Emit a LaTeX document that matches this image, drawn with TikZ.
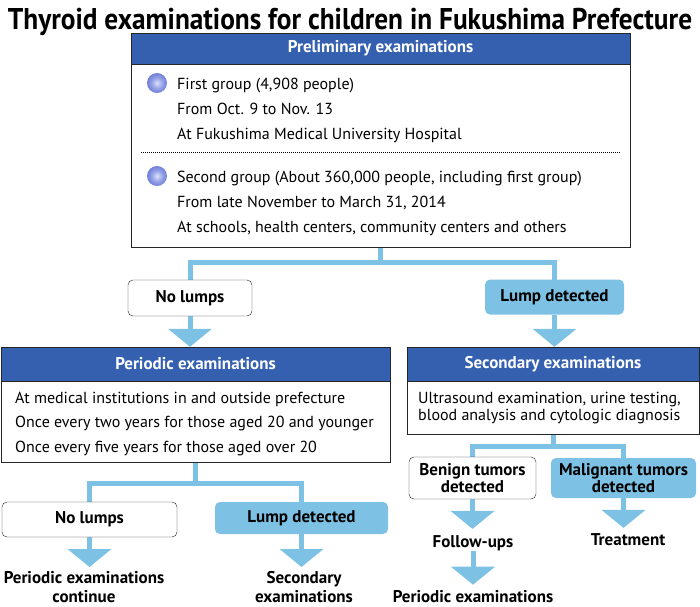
\documentclass[tikz,border=0pt]{standalone}
\usepackage{fontspec}
\setmainfont{PT Sans}
\newfontfamily\titlefont[FakeStretch=0.91]{PT Sans}
\usetikzlibrary{arrows.meta}
\definecolor{hdrblue}{RGB}{53,96,176}
\definecolor{lightblue}{RGB}{125,194,228}
\pgfdeclareradialshading{bulletshade}{\pgfpoint{0bp}{0bp}}{rgb(0bp)=(0.86,0.88,0.98); rgb(14bp)=(0.58,0.63,0.9); rgb(34bp)=(0.32,0.4,0.82); rgb(50bp)=(0.22,0.3,0.72)}
\pgfdeclarelayer{bg}
\pgfsetlayers{bg,main}

\begin{document}
\begin{tikzpicture}[x=1pt,y=-1pt,
    hdr/.style={draw=black!85,fill=hdrblue,text=white,font=\fontsize{17}{19}\selectfont\bfseries,minimum height=34pt,inner sep=0pt},
    body/.style={draw=black!85,fill=white,inner sep=0pt},
    txt/.style={anchor=base west,font=\fontsize{16}{18}\selectfont,inner sep=0pt},
    nolumpbox/.style={draw=black!85,fill=white,rounded corners=5pt,font=\fontsize{17}{17.5}\selectfont\bfseries,inner sep=0pt},
    lumpbox/.style={fill=lightblue,rounded corners=5pt,font=\fontsize{17}{17.5}\selectfont\bfseries,inner sep=0pt},
    outcome/.style={font=\fontsize{17}{19}\selectfont\bfseries,align=center,inner sep=0pt},
    flow/.style={draw=lightblue,line width=5pt},
    flowarrow/.style={flow,-{Triangle[width=43pt,length=18pt]}},
    bullet/.style={circle,minimum size=20pt,inner sep=0pt,shade,shading=bulletshade}]
    \useasboundingbox (0,0) rectangle (700,606);

    \node[anchor=base,font=\titlefont\fontsize{30}{32}\selectfont\bfseries] (title) at (350,29) {Thyroid examinations for children in Fukushima Prefecture};

    % preliminary
    \node[hdr,minimum width=499pt,minimum height=31pt] (pre) at (380.5,48.5) {Preliminary examinations};
    \node[body,anchor=north,minimum width=499pt,minimum height=183pt] (prebody) at (pre.south) {};
    \node[bullet] (b1) at (157,83) {};
    \node[bullet] (b2) at (157,176) {};
    \foreach \t [count=\i from 0] in {{First group (4,908 people)},{From Oct. 9 to Nov. 13},{At Fukushima Medical University Hospital}}
        \node[txt] (ga\i) at (177,89+25*\i) {\t};
    \draw[line width=0.6pt,dash pattern=on 1pt off 1pt] (141,152) -- (620,152);
    \foreach \t [count=\i from 0] in {{Second group (About 360,000 people, including first group)},{From late November to March 31, 2014},{At schools, health centers, community centers and others}}
        \node[txt] (gb\i) at (177,182+25*\i) {\t};

    \node[nolumpbox,minimum width=124pt,minimum height=36pt] (no1) at (190,298) {No lumps};
    \node[lumpbox,minimum width=139pt,minimum height=35pt] (lump1) at (554.5,297) {Lump detected};

    % periodic
    \node[hdr,minimum width=389pt] (per) at (195.5,364) {Periodic examinations};
    \node[body,anchor=north,minimum width=389pt,minimum height=81pt] (perbody) at (per.south) {};
    \foreach \t [count=\i from 0] in {{At medical institutions in and outside prefecture},{Once every two years for those aged 20 and younger},{Once every five years for those aged over 20}}
        \node[txt] (pl\i) at (15,403+24.5*\i) {\t};

    \node[nolumpbox,minimum width=175pt,minimum height=35pt] (no2) at (89.5,519.5) {No lumps};
    \node[lumpbox,minimum width=173pt,minimum height=32pt] (lump2) at (301.5,518) {Lump detected};
    \node[outcome,anchor=north] (pcont) at (84,571) {Periodic examinations\\continue};
    \node[outcome,anchor=north] (secex) at (304,571) {Secondary\\examinations};

    % secondary
    \node[hdr,minimum width=292pt] (sec) at (553,364) {Secondary examinations};
    \node[body,anchor=north,minimum width=292pt,minimum height=53pt] (secbody) at (sec.south) {};
    \foreach \t [count=\i from 0] in {{Ultrasound examination, urine testing,},{blood analysis and cytologic diagnosis}}
        \node[txt] (sl\i) at (418,403+17*\i) {\t};

    \node[nolumpbox,minimum width=127pt,minimum height=42pt,align=center] (benign) at (472.5,478) {Benign tumors\\detected};
    \node[lumpbox,minimum width=145pt,minimum height=40pt,align=center] (malig) at (623.5,478) {Malignant tumors\\detected};
    \node[outcome,anchor=base] (follow) at (473,547) {Follow-ups};
    \node[outcome,anchor=base] (treat) at (628,545) {Treatment};
    \node[outcome,anchor=base] (pexam) at (473,602) {Periodic examinations};

    \begin{pgfonlayer}{bg}
        \draw[flow] (prebody.south) -- ++(0,15) coordinate (j1);
        \draw[flow] (no1.center) |- (j1) -| (lump1.center);
        \draw[flowarrow] (no1) -- (no1 |- per.north);
        \draw[flowarrow] (lump1) -- (lump1 |- sec.north);

        \draw[flow] (perbody.south) -- ++(0,21) coordinate (j2);
        \draw[flow] (no2.center) |- (j2) -| (lump2.center);
        \draw[flowarrow,shorten >=4pt] (no2) -- (no2 |- pcont.north);
        \draw[flowarrow,shorten >=4pt] (lump2) -- (lump2 |- secex.north);

        \draw[flow] (secbody.south) -- ++(0,12) coordinate (j3);
        \draw[flow] (benign.center) |- (j3) -| (malig.center);
        \draw[flowarrow,shorten >=6pt] (benign) -- (benign |- follow.north);
        \draw[flowarrow,shorten >=5pt] (follow) -- (follow |- pexam.north);
        \draw[flowarrow,shorten >=5pt] (malig) -- (malig |- treat.north);
    \end{pgfonlayer}
\end{tikzpicture}
\end{document}
